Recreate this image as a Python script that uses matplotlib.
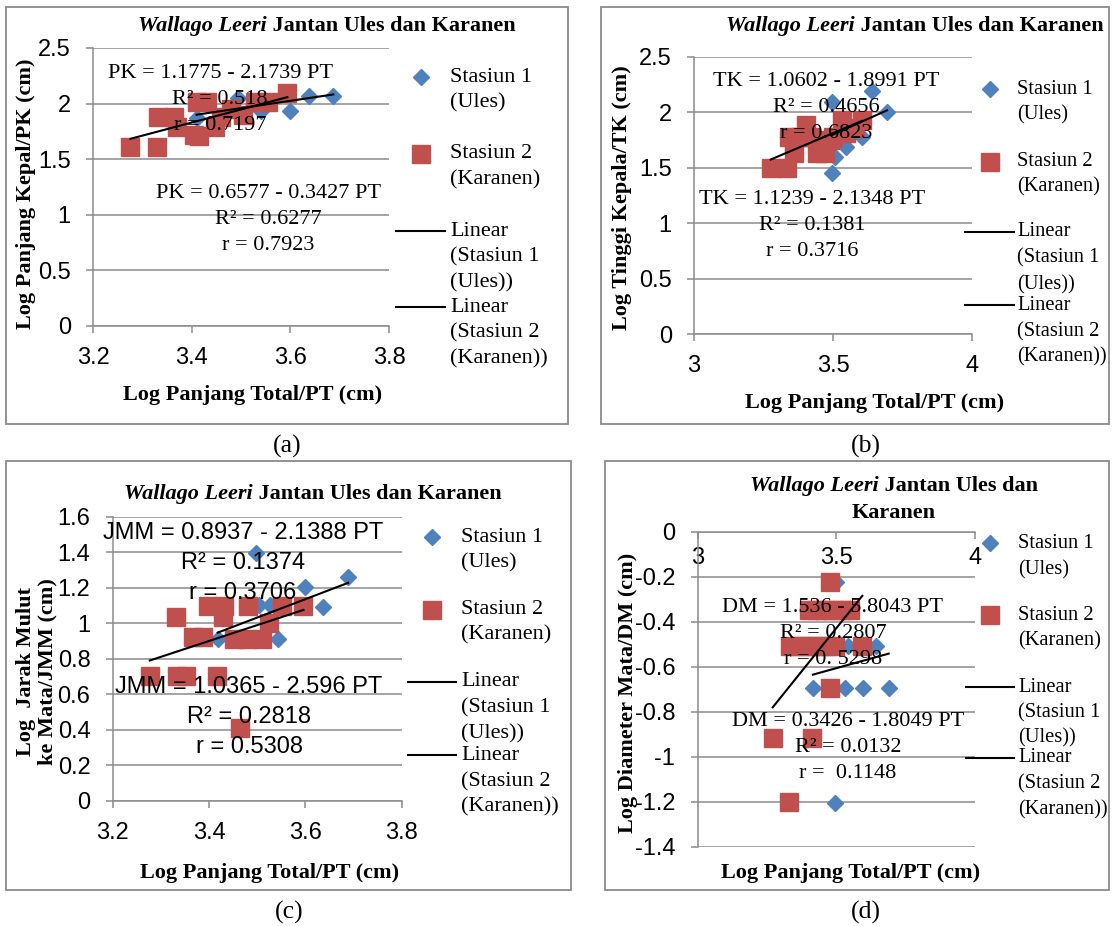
import matplotlib
matplotlib.use("Agg")
import numpy as np
import matplotlib.pyplot as plt
from matplotlib import font_manager
from matplotlib.patches import Rectangle
from matplotlib.lines import Line2D

# ------------------------------------------------------------------ data
series_names = [["Stasiun 1", "(Ules)"], ["Stasiun 2", "(Karanen)"],
                ["Linear", "(Stasiun 1", "(Ules))"], ["Linear", "(Stasiun 2", "(Karanen))"]]
title_italic = "Wallago Leeri"
title_rest = " Jantan Ules dan Karanen"
xlabel_text = "Log Panjang Total/PT (cm)"

# panel (a)  Log PK vs Log PT
a_s1_x = [3.410, 3.493, 3.541, 3.599, 3.638, 3.687]
a_s1_y = [1.870, 2.047, 1.935, 1.933, 2.071, 2.071]
a_s2_x = [3.276, 3.330, 3.332, 3.365, 3.370, 3.405, 3.415, 3.410, 3.432, 3.447,
          3.460, 3.480, 3.505, 3.528, 3.555, 3.594]
a_s2_y = [1.607, 1.607, 1.877, 1.877, 1.793, 1.718, 1.710, 2.010, 2.017, 1.793,
          1.880, 1.950, 1.900, 2.010, 2.010, 2.093]
a_fit_s1 = (0.6577, -0.3427)
a_fit_s2 = (1.1775, -2.1739)
a_eq_top = ["PK = 1.1775 - 2.1739 PT", "R\u00b2 = 0.518", "r = 0.7197"]
a_eq_bot = ["PK = 0.6577 - 0.3427 PT", "R\u00b2 = 0.6277", "r = 0.7923"]
a_xticks = [3.2, 3.4, 3.6, 3.8]
a_xlabels = ["3.2", "3.4", "3.6", "3.8"]
a_yticks = [0, 0.5, 1, 1.5, 2, 2.5]
a_ylabels = ["0", "0.5", "1", "1.5", "2", "2.5"]
a_ylabel = "Log Panjang Kepal/PK (cm)"

# panel (b)  Log TK vs Log PT
b_s1_x = [3.497, 3.497, 3.507, 3.546, 3.606, 3.640, 3.694]
b_s1_y = [2.096, 1.456, 1.600, 1.690, 1.780, 2.195, 2.006]
b_s2_x = [3.276, 3.334, 3.359, 3.340, 3.380, 3.404, 3.420, 3.443, 3.450, 3.470,
          3.490, 3.500, 3.533, 3.546, 3.580, 3.604]
b_s2_y = [1.501, 1.501, 1.630, 1.780, 1.780, 1.886, 1.780, 1.630, 1.700, 1.630,
          1.750, 1.780, 1.930, 1.810, 1.856, 1.930]
b_fit_s1 = (1.1239, -2.1348)
b_fit_s2 = (1.0602, -1.8991)
b_eq_top = ["TK = 1.0602 - 1.8991 PT", "R\u00b2 = 0.4656", "r = 0.6823"]
b_eq_bot = ["TK = 1.1239 - 2.1348 PT", "R\u00b2 = 0.1381", "r = 0.3716"]
b_xticks = [3, 3.5, 4]
b_xlabels = ["3", "3.5", "4"]
b_yticks = [0, 0.5, 1, 1.5, 2, 2.5]
b_ylabels = ["0", "0.5", "1", "1.5", "2", "2.5"]
b_ylabel = "Log Tinggi Kepala/TK (cm)"

# panel (c)  Log JMM vs Log PT
c_s1_x = [3.418, 3.492, 3.497, 3.504, 3.526, 3.544, 3.599, 3.637, 3.689]
c_s1_y = [0.913, 0.913, 1.394, 1.100, 1.100, 0.913, 1.202, 1.093, 1.259]
c_s2_x = [3.277, 3.333, 3.352, 3.417, 3.331, 3.366, 3.388, 3.398, 3.432, 3.430,
          3.452, 3.478, 3.510, 3.481, 3.525, 3.552, 3.596, 3.464]
c_s2_y = [0.703, 0.703, 0.703, 0.703, 1.037, 0.920, 0.920, 1.098, 1.098, 1.037,
          0.913, 0.913, 0.913, 1.098, 1.000, 1.098, 1.098, 0.408]
c_fit_s1 = (1.0365, -2.596)
c_fit_s2 = (0.8937, -2.1388)
c_eq_top = ["JMM = 0.8937 - 2.1388 PT", "R\u00b2 = 0.1374", "r = 0.3706"]
c_eq_bot = ["JMM = 1.0365 - 2.596 PT", "R\u00b2 = 0.2818", "r = 0.5308"]
c_xticks = [3.2, 3.4, 3.6, 3.8]
c_xlabels = ["3.2", "3.4", "3.6", "3.8"]
c_yticks = [0, 0.2, 0.4, 0.6, 0.8, 1.0, 1.2, 1.4, 1.6]
c_ylabels = ["0", "0.2", "0.4", "0.6", "0.8", "1", "1.2", "1.4", "1.6"]
c_ylabel = "Log  Jarak Mulut\nke Mata/JMM (cm)"

# panel (d)  Log DM vs Log PT
d_s1_x = [3.500, 3.542, 3.645, 3.416, 3.530, 3.597, 3.689, 3.494]
d_s1_y = [-0.224, -0.507, -0.507, -0.695, -0.695, -0.695, -0.695, -1.206]
d_s2_x = [3.478, 3.400, 3.430, 3.460, 3.490, 3.520, 3.550, 3.332, 3.365, 3.398,
          3.431, 3.464, 3.497, 3.594, 3.478, 3.271, 3.413, 3.331]
d_s2_y = [-0.224, -0.347, -0.347, -0.347, -0.347, -0.347, -0.347, -0.507, -0.507, -0.507,
          -0.507, -0.507, -0.507, -0.507, -0.695, -0.917, -0.917, -1.203]
d_fit_s1 = (0.3426, -1.8049)
d_fit_s2 = (1.536, -5.8043)
d_eq_top = ["DM = 1.536 - 5.8043 PT", "R\u00b2 = 0.2807", "r = 0. 5298"]
d_eq_bot = ["DM = 0.3426 - 1.8049 PT", "R\u00b2 = 0.0132", "r =  0.1148"]
d_xticks = [3, 3.5, 4]
d_xlabels = ["3", "3.5", "4"]
d_yticks = [-1.4, -1.2, -1.0, -0.8, -0.6, -0.4, -0.2, 0]
d_ylabels = ["-1.4", "-1.2", "-1", "-0.8", "-0.6", "-0.4", "-0.2", "0"]
d_ylabel = "Log Diameter Mata/DM (cm)"

captions = ["(a)", "(b)", "(c)", "(d)"]

# ------------------------------------------------------------------ style
W, H, DPI = 1112, 926, 100
BLUE = "#4F81BD"
RED = "#C0504D"
GRID = "#8C8C8C"
BOX = "#8A8A8A"
SERIF = "Liberation Serif"
SANS = "Liberation Sans"
try:
    font_manager.findfont(font_manager.FontProperties(family="Liberation Sans Narrow"),
                          fallback_to_default=False)
    NARROW = "Liberation Sans Narrow"
except Exception:
    NARROW = "Liberation Sans"
FS = 16
TICK_FS = 17
MS_D = 8.2
MS_S = 13

fig = plt.figure(figsize=(W / DPI, H / DPI), dpi=DPI)
fig.patch.set_facecolor("white")
renderer = fig.canvas.get_renderer()


def fx(x):
    return x / W


def fy(y):
    return 1.0 - y / H


def txt(x, y, s, size=FS, family=SERIF, weight="normal", style="normal",
        ha="center", va="center", rot=0, ls=1.2):
    return fig.text(fx(x), fy(y), s, fontsize=size, family=family, weight=weight,
                    style=style, ha=ha, va=va, rotation=rot, linespacing=ls, zorder=10)


def title_runs(xc, ybase, rest=title_rest):
    t1 = fig.text(0, 0, title_italic, fontsize=FS, family=SERIF, weight="bold",
                  style="italic", ha="left", va="baseline", zorder=10)
    t2 = fig.text(0, 0, rest, fontsize=FS, family=SERIF, weight="bold",
                  ha="left", va="baseline", zorder=10)
    w1 = t1.get_window_extent(renderer).width
    w2 = t2.get_window_extent(renderer).width
    x0 = xc - (w1 + w2) / 2
    t1.set_position((fx(x0), fy(ybase)))
    t2.set_position((fx(x0 + w1), fy(ybase)))


def box(l, t, r, b):
    fig.add_artist(Rectangle((fx(l), fy(b)), (r - l) / W, (b - t) / H,
                             transform=fig.transFigure, fill=False,
                             edgecolor=BOX, lw=1.3, zorder=0))


def legend(xm, xl0, xl1, xt, ys, size=FS):
    kinds = [("D", BLUE, MS_D), ("s", RED, MS_S), ("line", None, None), ("line", None, None)]
    for (kind, col, ms), lines, yy in zip(kinds, series_names, ys):
        if kind == "line":
            fig.add_artist(Line2D([fx(xl0), fx(xl1)], [fy(yy[0]), fy(yy[0])],
                                  transform=fig.transFigure, color="black", lw=1.5))
        else:
            fig.add_artist(Line2D([fx(xm)], [fy(yy[0])], transform=fig.transFigure,
                                  marker=kind, ms=ms, color=col, ls="none"))
        for s, y in zip(lines, yy):
            txt(xt, y, s, ha="left", size=size)


def make_axes(l, r, t, b, xlim, ylim, xticks, xlabels, yticks, ylabels, top=False):
    ax = fig.add_axes([fx(l), fy(b), (r - l) / W, (b - t) / H])
    ax.set_facecolor("none")
    ax.set_xlim(*xlim)
    ax.set_ylim(*ylim)
    ax.set_xticks(xticks, labels=xlabels)
    ax.set_yticks(yticks, labels=ylabels)
    ax.spines["right"].set_visible(False)
    if top:
        ax.spines["bottom"].set_visible(False)
    else:
        ax.spines["top"].set_visible(False)
    for s in ax.spines.values():
        s.set_color(GRID)
        s.set_linewidth(1.1)
    ax.grid(axis="y", color=GRID, lw=1.1)
    ax.set_axisbelow(True)
    ax.tick_params(axis="both", labelsize=TICK_FS, labelfontfamily=NARROW,
                   color=GRID, width=1.1, length=5)
    ax.tick_params(axis="y", direction="out", pad=11)
    if top:
        ax.tick_params(axis="x", top=True, bottom=False, labeltop=True,
                       labelbottom=False, direction="in", pad=-27)
    else:
        ax.tick_params(axis="x", direction="out", pad=10)
    return ax


def plot_series(ax, s1x, s1y, s2x, s2y, fit1, fit2):
    ax.plot(s1x, s1y, ls="none", marker="D", ms=MS_D, color=BLUE, zorder=3, clip_on=False)
    ax.plot(s2x, s2y, ls="none", marker="s", ms=MS_S, color=RED, zorder=4, clip_on=False)
    for xs, (m, c) in ((s2x, fit2), (s1x, fit1)):
        xx = np.array([min(xs), max(xs)])
        ax.plot(xx, m * xx + c, color="black", lw=1.5, zorder=5)


# ------------------------------------------------------------------ panel (a)
box(6, 7, 568, 424)
ax = make_axes(93, 389, 48, 326, (3.2, 3.8), (0, 2.5), a_xticks, a_xlabels, a_yticks, a_ylabels)
plot_series(ax, a_s1_x, a_s1_y, a_s2_x, a_s2_y, a_fit_s1, a_fit_s2)
title_runs(327, 31)
for s, y in zip(a_eq_top, [73, 99, 126]):
    txt(220, y, s)
for s, y in zip(a_eq_bot, [193, 219, 245]):
    txt(268, y, s)
txt(253, 395, xlabel_text, weight="bold")
txt(26, 194, a_ylabel, weight="bold", rot=90)
legend(421, 396, 445, 450, [[77, 103], [154, 180], [231, 257, 283], [307, 333, 359]])
txt(287, 446, captions[0], size=18.5)

# ------------------------------------------------------------------ panel (b)
box(601, 7, 1109, 424)
ax = make_axes(694, 972, 56.7, 334.3, (3, 4), (0, 2.5), b_xticks, b_xlabels, b_yticks, b_ylabels)
plot_series(ax, b_s1_x, b_s1_y, b_s2_x, b_s2_y, b_fit_s1, b_fit_s2)
title_runs(915, 31)
for s, y in zip(b_eq_top, [82, 107, 133]):
    txt(826, y, s)
for s, y in zip(b_eq_bot, [200, 226, 252]):
    txt(812, y, s)
txt(875, 403, xlabel_text, weight="bold")
txt(622, 198, b_ylabel, weight="bold", rot=90)
legend(990, 965, 1014, 1017, [[89, 115], [162, 187], [232, 258, 285], [305, 332, 357]], size=14.8)
txt(866, 446, captions[1], size=18.5)

# ------------------------------------------------------------------ panel (c)
box(6, 461, 571, 890)
ax = make_axes(112.7, 401.7, 516.7, 800.7, (3.2, 3.8), (0, 1.6), c_xticks, c_xlabels, c_yticks, c_ylabels)
plot_series(ax, c_s1_x, c_s1_y, c_s2_x, c_s2_y, c_fit_s1, c_fit_s2)
title_runs(313, 499)
for s, y in zip(c_eq_top, [533, 563, 593]):
    txt(243, y, s, family=SANS, size=17)
for s, y in zip(c_eq_bot, [687, 717, 747]):
    txt(249, y, s, family=SANS, size=17)
txt(270, 873, xlabel_text, weight="bold")
txt(37, 672, c_ylabel, weight="bold", rot=90, ls=1.1)
legend(432, 408, 456, 461, [[537, 563], [610, 635], [682, 708, 734], [755, 782, 807]])
txt(289, 912, captions[2], size=18.5)

# ------------------------------------------------------------------ panel (d)
box(605, 461, 1109, 890)
ax = make_axes(697.5, 975, 532, 846.7, (3, 4), (-1.4, 0), d_xticks, d_xlabels, d_yticks, d_ylabels, top=True)
plot_series(ax, d_s1_x, d_s1_y, d_s2_x, d_s2_y, d_fit_s1, d_fit_s2)
title_runs(894, 491, rest=" Jantan Ules dan")
txt(894, 513, "Karanen", weight="bold")
for s, y in zip(d_eq_top, [607, 633, 660]):
    txt(833, y, s)
for s, y in zip(d_eq_bot, [722, 748, 773]):
    txt(848, y, s)
txt(851, 873, xlabel_text, weight="bold")
txt(628, 693, d_ylabel, weight="bold", rot=90)
legend(990, 966, 1014, 1018, [[543, 570], [615, 641], [687, 713, 738], [758, 784, 810]], size=14.8)
txt(866, 912, captions[3], size=18.5)

fig.savefig("out.png", dpi=DPI, facecolor="white")
